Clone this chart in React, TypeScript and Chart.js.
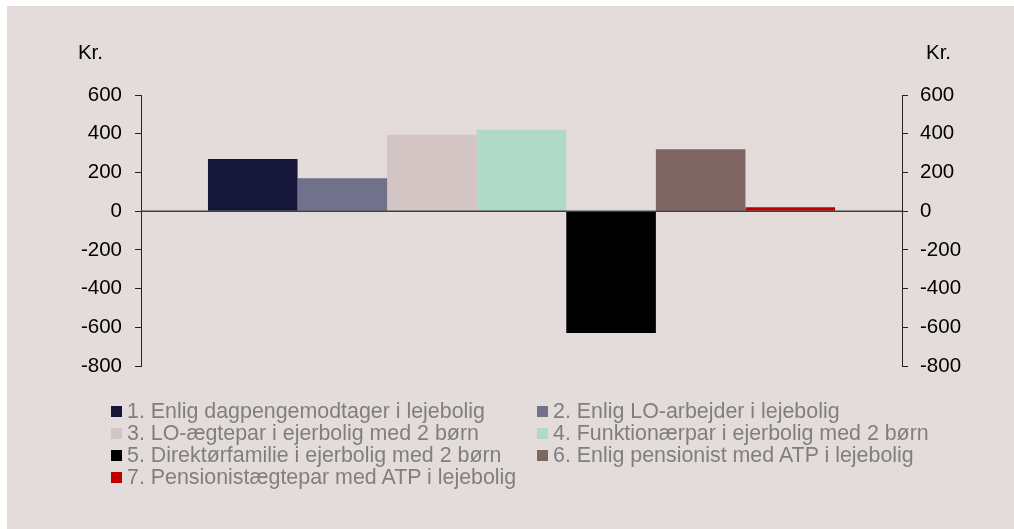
import React, { useEffect, useRef } from "react";
import { Chart, registerables } from "chart.js";

Chart.register(...registerables);

const categories = [""];
const seriesLabels = [
  "1. Enlig dagpengemodtager i lejebolig",
  "2. Enlig LO-arbejder i lejebolig",
  "3. LO-ægtepar i ejerbolig med 2 børn",
  "4. Funktionærpar i ejerbolig med 2 børn",
  "5. Direktørfamilie i ejerbolig med 2 børn",
  "6. Enlig pensionist med ATP i lejebolig",
  "7. Pensionistægtepar med ATP i lejebolig",
];
const seriesValues = [270, 170, 395, 420, -630, 320, 20];
const seriesColors = ["#16163a", "#72718c", "#d2c5c3", "#b0d9c8", "#000000", "#7e6762", "#c00000"];
const yTicks = [600, 400, 200, 0, -200, -400, -600, -800];
const axisUnit = "Kr.";

const BG = "#e3dcdb";
const FONT = "Arial, 'Liberation Sans', sans-serif";

export default function App() {
  const ref = useRef<HTMLCanvasElement>(null);

  useEffect(() => {
    const canvas = ref.current;
    if (!canvas) return;
    const extras = {
      id: "extras",
      afterDatasetsDraw(chart: any) {
        const ctx = chart.ctx;
        const y = chart.scales.y.getPixelForValue(0);
        ctx.save();
        ctx.strokeStyle = "#3f3f3f";
        ctx.lineWidth = 1.5;
        ctx.beginPath();
        ctx.moveTo(chart.chartArea.left, y);
        ctx.lineTo(chart.chartArea.right, y);
        ctx.stroke();
        ctx.fillStyle = "#000";
        ctx.font = "20.5px " + FONT;
        ctx.textBaseline = "middle";
        ctx.textAlign = "right";
        ctx.fillText(axisUnit, 96, 47);
        ctx.textAlign = "left";
        ctx.fillText(axisUnit, 919, 47);
        ctx.restore();
      },
    };
    const tickCfg = {
      color: "#000",
      font: { size: 20.5, family: FONT },
      padding: 12,
    };
    const gridCfg = {
      drawOnChartArea: false,
      drawTicks: true,
      tickLength: 6,
      tickColor: "#222",
      tickWidth: 1,
    };
    const chart = new Chart(canvas, {
      type: "bar",
      data: {
        labels: categories,
        datasets: seriesLabels.map((label, i) => ({
          label,
          data: [seriesValues[i]],
          backgroundColor: seriesColors[i],
          borderWidth: 0,
          barPercentage: 1,
          categoryPercentage: 0.824,
          yAxisID: "y",
        })),
      },
      options: {
        responsive: false,
        animation: false,
        devicePixelRatio: 1,
        layout: { padding: { top: 89, bottom: 163, left: 0, right: 0 } },
        plugins: { legend: { display: false }, tooltip: { enabled: false } },
        scales: {
          x: { display: false },
          y: {
            position: "left",
            min: -800,
            max: 600,
            afterBuildTicks: (s: any) => { s.ticks = yTicks.map((v) => ({ value: v })); },
            afterFit: (s: any) => { s.width = 134; },
            ticks: { ...tickCfg, padding: 13 },
            grid: gridCfg,
            border: { display: true, color: "#222", width: 1 },
          },
          y2: {
            position: "right",
            min: -800,
            max: 600,
            afterBuildTicks: (s: any) => { s.ticks = yTicks.map((v) => ({ value: v })); },
            afterFit: (s: any) => { s.width = 112; },
            ticks: tickCfg,
            grid: gridCfg,
            border: { display: true, color: "#222", width: 1 },
          },
        },
      },
      plugins: [extras],
    });
    return () => chart.destroy();
  }, []);

  const legendRows = [];
  for (let i = 0; i < seriesLabels.length; i += 2) legendRows.push([i, i + 1]);

  return (
    <div style={{ position: "fixed", left: 7, top: 6, width: 1007, height: 523, background: BG, overflow: "hidden" }}>
      <canvas ref={ref} width={1007} height={523} style={{ position: "absolute", left: 0, top: 0, width: 1007, height: 523 }} />
      {legendRows.map((row, r) =>
        row.map((idx, c) =>
          idx < seriesLabels.length ? (
            <div
              key={idx}
              style={{
                position: "absolute",
                left: c === 0 ? 104 : 530,
                top: 394 + r * 22.2,
                height: 22,
                display: "flex",
                alignItems: "center",
                whiteSpace: "nowrap",
                font: "21.4px " + FONT,
                color: "#7f7f7f",
              }}
            >
              <span style={{ display: "inline-block", width: 11, height: 11, background: seriesColors[idx], marginRight: 5 }} />
              <span>{seriesLabels[idx]}</span>
            </div>
          ) : null
        )
      )}
    </div>
  );
}
